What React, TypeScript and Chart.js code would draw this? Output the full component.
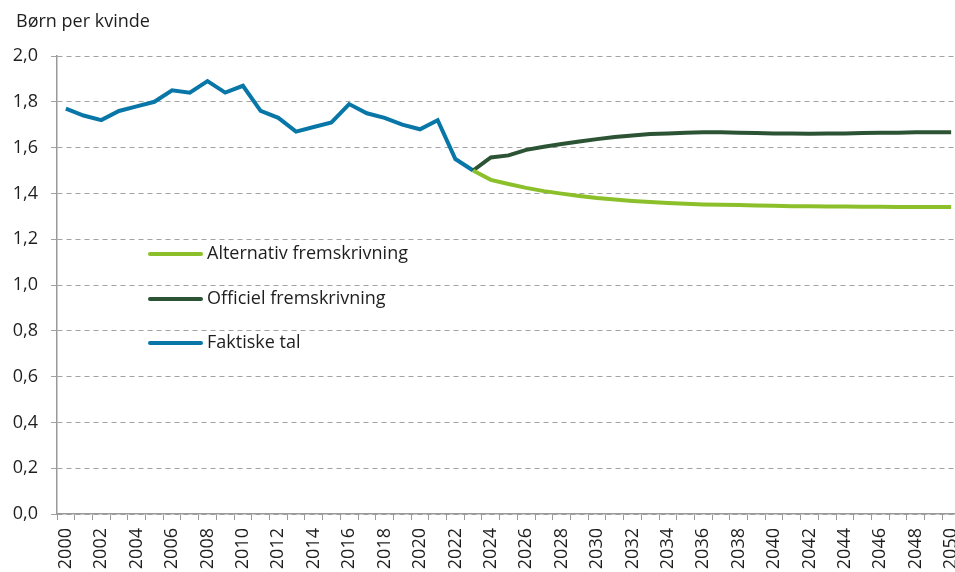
import { useEffect, useRef } from 'react';
import { Chart, registerables } from 'chart.js';

Chart.register(...registerables);

const years = [
  '2000', '2001', '2002', '2003', '2004', '2005', '2006', '2007', '2008', '2009',
  '2010', '2011', '2012', '2013', '2014', '2015', '2016', '2017', '2018', '2019',
  '2020', '2021', '2022', '2023', '2024', '2025', '2026', '2027', '2028', '2029',
  '2030', '2031', '2032', '2033', '2034', '2035', '2036', '2037', '2038', '2039',
  '2040', '2041', '2042', '2043', '2044', '2045', '2046', '2047', '2048', '2049',
  '2050',
];

// Faktiske tal 2000-2023
const actual = [
  1.77, 1.74, 1.72, 1.76, 1.78, 1.80, 1.85, 1.84, 1.89, 1.84,
  1.87, 1.76, 1.73, 1.67, 1.69, 1.71, 1.79, 1.75, 1.73, 1.70,
  1.68, 1.72, 1.55, 1.50,
];

// Officiel fremskrivning 2023-2050
const official = [
  1.50, 1.557, 1.566, 1.59, 1.604, 1.616, 1.627, 1.637, 1.646, 1.653,
  1.659, 1.662, 1.665, 1.667, 1.667, 1.665, 1.664, 1.662, 1.662, 1.660,
  1.662, 1.662, 1.664, 1.665, 1.665, 1.667, 1.667, 1.667,
];

// Alternativ fremskrivning 2023-2050
const alternative = [
  1.50, 1.459, 1.441, 1.424, 1.41, 1.399, 1.389, 1.380, 1.373, 1.367,
  1.362, 1.358, 1.355, 1.352, 1.350, 1.349, 1.347, 1.346, 1.344, 1.344,
  1.343, 1.343, 1.342, 1.342, 1.341, 1.341, 1.341, 1.341,
];

const titleText = 'Børn per kvinde';
const labelAlternative = 'Alternativ fremskrivning';
const labelOfficial = 'Officiel fremskrivning';
const labelActual = 'Faktiske tal';

const FONT = "'Open Sans', 'Noto Sans', sans-serif";
const TEXT = '#1e1e1e';
const GRID = '#a3a3a3';

function pad(values: number[], startYear: string): (number | null)[] {
  const start = years.indexOf(startYear);
  return years.map((_, i) => (i >= start && i - start < values.length ? values[i - start] : null));
}

const titlePlugin = {
  id: 'customTitle',
  afterDraw(chart: any) {
    const ctx = chart.ctx;
    ctx.save();
    ctx.font = `18px ${FONT}`;
    ctx.fillStyle = TEXT;
    ctx.textAlign = 'left';
    ctx.textBaseline = 'alphabetic';
    ctx.fillText(titleText, 16, 27);
    ctx.restore();
  },
};

const legendPlugin = {
  id: 'insideLegend',
  afterDatasetsDraw(chart: any) {
    const ctx = chart.ctx;
    const rows = [254, 299, 343];
    ctx.save();
    chart.data.datasets.forEach((ds: any, i: number) => {
      const y = rows[i];
      ctx.strokeStyle = ds.borderColor;
      ctx.lineWidth = 4;
      ctx.lineCap = 'round';
      ctx.beginPath();
      ctx.moveTo(150, y);
      ctx.lineTo(201, y);
      ctx.stroke();
      ctx.font = `18px ${FONT}`;
      ctx.fillStyle = TEXT;
      ctx.textAlign = 'left';
      ctx.textBaseline = 'middle';
      ctx.fillText(ds.label, 207, y);
    });
    ctx.restore();
  },
};

export default function App() {
  const ref = useRef<HTMLCanvasElement>(null);

  useEffect(() => {
    document.body.style.margin = '0';
    document.body.style.overflow = 'hidden';
    const canvas = ref.current;
    if (!canvas) return;
    const chart = new Chart(canvas, {
      type: 'line',
      data: {
        labels: years,
        datasets: [
          {
            label: labelAlternative,
            data: pad(alternative, '2023'),
            borderColor: '#8cc02a',
            borderWidth: 4,
            pointRadius: 0,
            tension: 0,
          },
          {
            label: labelOfficial,
            data: pad(official, '2023'),
            borderColor: '#2c5434',
            borderWidth: 4,
            pointRadius: 0,
            tension: 0,
          },
          {
            label: labelActual,
            data: pad(actual, '2000'),
            borderColor: '#0877a8',
            borderWidth: 4,
            pointRadius: 0,
            tension: 0,
          },
        ],
      },
      options: {
        responsive: false,
        animation: false,
        devicePixelRatio: 1,
        layout: { padding: { top: 56, right: 4, left: 0, bottom: 0 } },
        plugins: {
          legend: { display: false },
          title: { display: false },
          tooltip: { enabled: false },
        },
        scales: {
          x: {
            type: 'category',
            offset: true,
            grid: {
              offset: true,
              drawOnChartArea: false,
              drawTicks: true,
              tickLength: 6,
              tickColor: '#999',
              color: '#999',
            },
            border: { color: '#999', width: 1.5 },
            ticks: {
              autoSkip: false,
              minRotation: 90,
              maxRotation: 90,
              padding: 8,
              color: TEXT,
              font: { family: FONT, size: 18 },
              callback: (_v: any, i: number) => (i % 2 === 0 ? years[i] : ''),
            },
            afterFit: (s: any) => {
              s.height = 58;
              s.paddingRight = 0;
              s.paddingLeft = 0;
            },
          },
          y: {
            min: 0,
            max: 2,
            grid: {
              color: GRID,
              lineWidth: 1,
              tickLength: 6,
              tickColor: GRID,
            },
            border: { color: '#999', width: 1.5, dash: [5, 4] },
            ticks: {
              stepSize: 0.2,
              padding: 13,
              color: TEXT,
              font: { family: FONT, size: 18 },
              callback: (v: any) => Number(v).toFixed(1).replace('.', ','),
            },
            afterFit: (s: any) => {
              s.width = 57;
            },
          },
        },
      },
      plugins: [titlePlugin, legendPlugin],
    });
    return () => chart.destroy();
  }, []);

  return (
    <div style={{ width: 964, height: 572 }}>
      <canvas ref={ref} width={964} height={572} style={{ display: 'block' }} />
    </div>
  );
}
